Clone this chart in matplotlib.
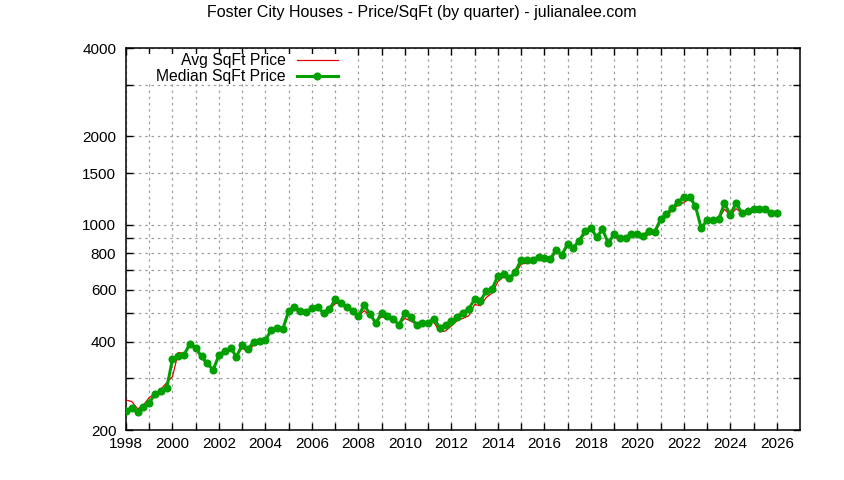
import numpy as np
import matplotlib
import matplotlib.pyplot as plt
from matplotlib.patches import Rectangle
from matplotlib.ticker import FixedLocator, FixedFormatter, NullLocator

matplotlib.use('Agg')
plt.rcParams['font.family'] = ['Liberation Sans', 'DejaVu Sans']

# quarterly values, 1998 Q1 .. 2026 Q1
years = np.arange(1998, 2026.01, 0.25)

median_price = [
    233, 238, 231, 239, 248, 265, 271, 278,   # 1998-1999
    348, 356, 361, 393, 380, 356, 337, 320,   # 2000-2001
    360, 372, 381, 355, 390, 377, 400, 401,   # 2002-2003
    405, 438, 445, 442, 510, 523, 508, 503,   # 2004-2005
    521, 526, 499, 515, 557, 543, 523, 509,   # 2006-2007
    489, 533, 496, 462, 502, 489, 478, 455,   # 2008-2009
    502, 486, 456, 464, 464, 479, 446, 457,   # 2010-2011
    470, 484, 502, 518, 557, 550, 595, 604,   # 2012-2013
    670, 680, 657, 692, 759, 759, 759, 779,   # 2014-2015
    773, 763, 821, 789, 860, 836, 883, 952,   # 2016-2017
    977, 906, 967, 865, 930, 900, 904, 928,   # 2018-2019
    931, 916, 952, 947, 1044, 1086, 1138, 1193,  # 2020-2021
    1246, 1246, 1159, 973, 1038, 1038, 1044, 1184,  # 2022-2023
    1080, 1189, 1094, 1117, 1131, 1131, 1131, 1094,  # 2024-2025
    1099,                                     # 2026
]

avg_price = [
    253, 250, 236, 243, 258, 266, 275, 290,
    304, 367, 365, 388, 378, 352, 332, 325,
    355, 365, 375, 360, 380, 370, 390, 395,
    408, 438, 440, 440, 500, 515, 500, 505,
    515, 518, 502, 510, 540, 540, 520, 505,
    488, 510, 490, 470, 485, 480, 470, 458,
    480, 470, 458, 462, 462, 465, 432, 435,
    452, 472, 480, 490, 535, 530, 565, 585,
    640, 665, 650, 680, 735, 740, 745, 765,
    765, 760, 805, 790, 845, 835, 870, 935,
    960, 915, 950, 880, 910, 890, 900, 910,
    915, 915, 925, 930, 1030, 1070, 1120, 1170,
    1190, 1225, 1160, 985, 1040, 1035, 1045, 1130,
    1075, 1135, 1095, 1115, 1125, 1130, 1120, 1090,
    1075,
]

y_ticks = [200, 300, 400, 500, 600, 700, 800, 900, 1000, 1500, 2000, 3000, 4000]
y_labels = ["200", "", "400", "", "600", "", "800", "", "1000", "1500", "2000", "", "4000"]
x_ticks = list(range(1998, 2027))
x_labels = [str(y) if y % 2 == 0 else "" for y in x_ticks]

fig = plt.figure(figsize=(8.44, 4.8), dpi=100)
ax = fig.add_axes([126/844, 50/480, 674/844, 382/480])

ax.plot(years, avg_price, color="#e00000", lw=0.9, label="Avg SqFt Price", zorder=3)
ax.plot(years, median_price, color="#00a000", lw=2.2, marker="o", markersize=4.8,
        label="Median SqFt Price", zorder=4)

ax.set_yscale("log")
ax.set_ylim(200, 4000)
ax.set_xlim(1998, 2027)
ax.yaxis.set_major_locator(FixedLocator(y_ticks))
ax.yaxis.set_major_formatter(FixedFormatter(y_labels))
ax.yaxis.set_minor_locator(NullLocator())
ax.xaxis.set_major_locator(FixedLocator(x_ticks))
ax.xaxis.set_major_formatter(FixedFormatter(x_labels))

ax.tick_params(direction="in", top=True, right=True, length=5, width=1,
               labelsize=11, colors="black")
ax.tick_params(axis="y", pad=7)
ax.tick_params(axis="x", pad=5)
ax.grid(True, color="#a0a0a0", linestyle=(0, (2, 3)), linewidth=0.9)
for s in ax.spines.values():
    s.set_linewidth(1.1)

# opaque key area like gnuplot: hides the grid behind it (ticks stay visible)
ax.add_patch(Rectangle((0.009, 0.908), (350 - 132) / 674, 0.076, transform=ax.transAxes,
                       facecolor="white", edgecolor="none", zorder=2))
ax.legend(loc="upper right", bbox_to_anchor=((343 - 126) / 674, 1.0), frameon=False,
          markerfirst=False, fontsize=11.3, handlelength=2.6, borderaxespad=0.0,
          borderpad=0.35, labelspacing=0.05, handletextpad=0.7)

fig.text(422/844, 1 - 13/480, "Foster City Houses - Price/SqFt (by quarter) - julianalee.com",
         ha="center", va="center", fontsize=11.5)

fig.savefig("out.png", dpi=100)
